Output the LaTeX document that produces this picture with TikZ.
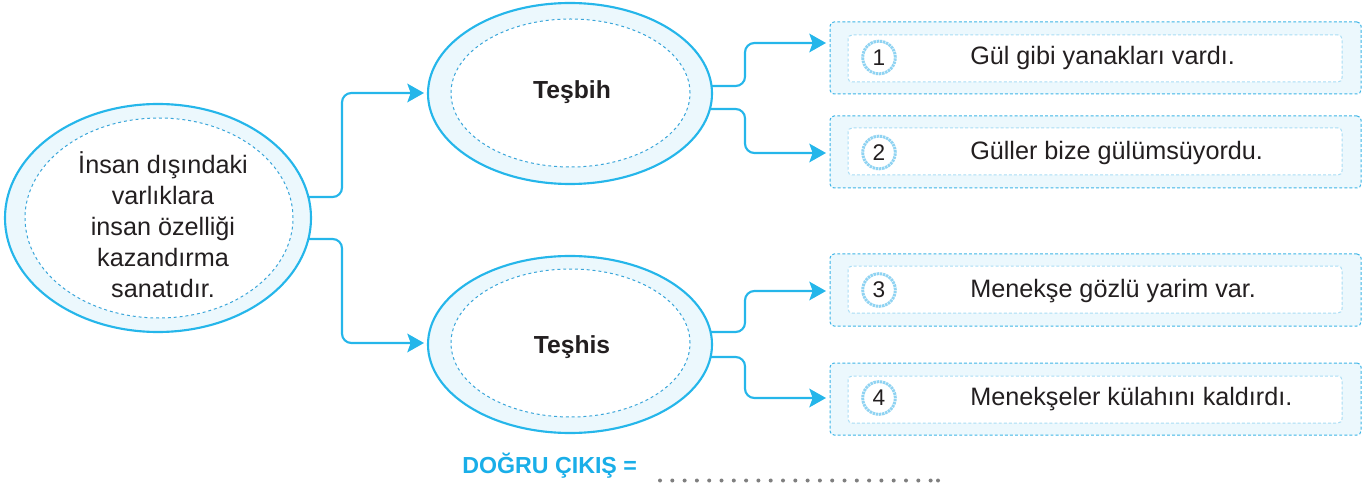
\documentclass[tikz,border=0pt]{standalone}
\usepackage{fontspec}
\setmainfont{Liberation Sans}
\usetikzlibrary{shapes.geometric,arrows.meta,calc}
\definecolor{cline}{HTML}{25B6EA}
\definecolor{ring}{HTML}{ECF8FD}
\definecolor{idash}{HTML}{3AA6DA}
\definecolor{bdash}{HTML}{3DB4E6}
\definecolor{bidash}{HTML}{A8DDF5}
\definecolor{circ}{HTML}{8FD3F2}
\definecolor{ink}{HTML}{231F20}
\definecolor{title}{HTML}{19AEE8}
\definecolor{dotc}{HTML}{7F7F7F}
\tikzset{
  outerell/.style={ellipse, draw=cline, line width=1.6pt, fill=ring, outer sep=0pt, inner sep=0pt},
  innerell/.style={ellipse, draw=idash, line width=0.75pt, dash pattern=on 2.2pt off 2.2pt, fill=white, outer sep=0pt, inner sep=0pt},
  txt/.style={text=ink, font=\fontsize{18.9pt}{23.25pt}\selectfont, inner sep=0pt, align=center},
  bold/.style={text=ink, font=\fontsize{18.5pt}{22pt}\selectfont\bfseries, inner sep=0pt},
  obox/.style={rectangle, rounded corners=3pt, draw=bdash, line width=0.75pt, dash pattern=on 2.2pt off 1.6pt, fill=ring, minimum width=398.25pt, minimum height=54pt, inner sep=0pt, outer sep=0pt},
  ibox/.style={rectangle, rounded corners=3pt, draw=bidash, line width=0.75pt, dash pattern=on 2.2pt off 1.6pt, fill=white, minimum width=370.5pt, minimum height=35.25pt, inner sep=0pt},
  numc/.style={circle, draw=circ, line width=2.2pt, dash pattern=on 1.8pt off 0.6pt, fill=white, minimum size=24.5pt, inner sep=0pt, text=ink, font=\fontsize{17pt}{18pt}\selectfont},
  conn/.style={draw=cline, line width=1.6pt, rounded corners=7pt, -{Stealth[length=12.5pt, width=14pt, inset=2.5pt]}},
}
\begin{document}
\begin{tikzpicture}[x=0.75pt, y=-0.75pt]
\useasboundingbox (0,0) rectangle (1366,488);

% left definition ellipse
\node[outerell, minimum width=229.5pt, minimum height=171pt] (def) at (158,218) {};
\node[innerell, minimum width=201pt, minimum height=150pt] (defin) at (159,218) {};
\node[txt] (deftext) at (163,225) {İnsan dışındaki\\varlıklara\\insan özelliği\\kazandırma\\sanatıdır.};

% Teşbih
\node[outerell, minimum width=213pt, minimum height=135.75pt] (tb) at (570,93.5) {};
\node[innerell, minimum width=179.25pt, minimum height=111pt] (tbin) at (570.5,93) {};
\node[bold] (tbtext) at (572,92) {Teşbih};

% Teşhis
\node[outerell, minimum width=213pt, minimum height=132.75pt] (th) at (570,344.5) {};
\node[innerell, minimum width=179.25pt, minimum height=111pt] (thin) at (570.5,343) {};
\node[bold] (thtext) at (572,347) {Teşhis};

% boxes
\node[obox] (b1) at (1095.5,58) {};
\node[ibox] (b1i) at (1095,58.5) {};
\node[numc] (c1) at (879,57.5) {1};
\node[txt, anchor=west] (t1) at (970,58) {Gül gibi yanakları vardı.};

\node[obox] (b2) at (1095.5,152) {};
\node[ibox] (b2i) at (1095,151.5) {};
\node[numc] (c2) at (879,152.5) {2};
\node[txt, anchor=west] (t2) at (970,153) {Güller bize gülümsüyordu.};

\node[obox] (b3) at (1095.5,290) {};
\node[ibox] (b3i) at (1095,289.5) {};
\node[numc] (c3) at (879,290) {3};
\node[txt, anchor=west] (t3) at (970,291) {Menekşe gözlü yarim var.};

\node[obox] (b4) at (1095.5,399) {};
\node[ibox] (b4i) at (1095,399.5) {};
\node[numc] (c4) at (879,398) {4};
\node[txt, anchor=west] (t4) at (970,399) {Menekşeler külahını kaldırdı.};

% connectors
\draw[conn] ($(def.east)+(-3,-21)$) -- ++(34,0) |- ($(tb.west)+(-4,-0.5)$);
\draw[conn] ($(def.east)+(-3,21)$) -- ++(34,0) |- ($(th.west)+(-4,-1.5)$);
\draw[conn] ($(tb.east)+(-1,-7.5)$) -- ++(34,0) |- ($(b1.west)+(-4,-15)$);
\draw[conn] ($(tb.east)+(-1,15.5)$) -- ++(34,0) |- ($(b2.west)+(-4,1)$);
\draw[conn] ($(th.east)+(-1,-12.5)$) -- ++(34,0) |- ($(b3.west)+(-4,1)$);
\draw[conn] ($(th.east)+(-1,12.5)$) -- ++(34,0) |- ($(b4.west)+(-4,-1)$);

% bottom line
\node[anchor=west, inner sep=0pt, text=title, font=\fontsize{17.4pt}{19pt}\selectfont\bfseries] (answer) at (462,466) {DOĞRU ÇIKIŞ =};
\foreach \i in {0,...,22} {
  \fill[dotc] (660+12.3*\i,480.5) circle[radius=1.5pt];
}
\fill[dotc] (938,480.5) circle[radius=1.5pt];
\end{tikzpicture}
\end{document}
